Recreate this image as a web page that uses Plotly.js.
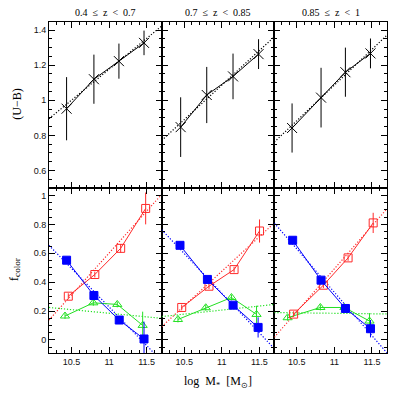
<!DOCTYPE html>
<html>
<head>
<meta charset="utf-8">
<script src="https://cdn.plot.ly/plotly-3.0.1.min.js"></script>
<style>
  html, body { margin: 0; padding: 0; background: #fff; }
  #chart { width: 396px; height: 396px; }
</style>
</head>
<body>
<div id="chart"></div>
<script>
// Redshift bins (one column of panels each)
const zLabels = ['0.4  \u2264  z  <  0.7', '0.7  \u2264  z  <  0.85', '0.85  \u2264  z  <  1'];

// Top row: mean (U-B) colour vs stellar mass
const ubMass = [[10.434, 10.798, 11.131, 11.465], [10.453, 10.800, 11.150, 11.490], [10.436, 10.822, 11.146, 11.480]];
const ubColor = [[0.952, 1.120, 1.223, 1.327], [0.847, 1.030, 1.136, 1.263], [0.842, 1.015, 1.160, 1.267]];
const ubErr = [[0.18, 0.14, 0.10, 0.07], [0.17, 0.16, 0.13, 0.085], [0.14, 0.17, 0.14, 0.085]];

// Linear fits, value at each end of fitMass
const fitMass = [10.2, 11.7];
const ubFit = [[0.895, 1.423], [0.771, 1.362], [0.762, 1.371]];

// Bottom row: colour fractions
const blueMass = [[10.434, 10.798, 11.135, 11.465], [10.444, 10.809, 11.151, 11.484], [10.444, 10.822, 11.147, 11.480]];
const blueFrac = [[0.552, 0.308, 0.138, 0.007], [0.655, 0.419, 0.241, 0.087], [0.690, 0.414, 0.218, 0.078]];
const blueErr = [[0.02, 0.02, 0.02, 0.12], [0.02, 0.02, 0.02, 0.07], [0.02, 0.02, 0.02, 0.06]];
const blueFit = [[0.655, -0.145], [0.763, -0.060], [0.809, -0.090]];

const redMass = [[10.457, 10.810, 11.154, 11.487], [10.467, 10.830, 11.164, 11.503], [10.457, 10.853, 11.182, 11.516]];
const redFrac = [[0.303, 0.453, 0.634, 0.910], [0.225, 0.372, 0.487, 0.754], [0.179, 0.379, 0.568, 0.810]];
const redErr = [[0.02, 0.02, 0.03, 0.11], [0.02, 0.02, 0.02, 0.08], [0.02, 0.02, 0.02, 0.07]];
const redFit = [[0.138, 1.007], [0.092, 0.810], [0.019, 0.908]];

const greenMass = [[10.413, 10.790, 11.109, 11.447], [10.417, 10.787, 11.129, 11.463], [10.377, 10.813, 11.133, 11.467]];
const greenFrac = [[0.166, 0.257, 0.246, 0.101], [0.142, 0.223, 0.294, 0.177], [0.154, 0.225, 0.225, 0.131]];
const greenErr = [[0.02, 0.02, 0.02, 0.095], [0.02, 0.02, 0.02, 0.06], [0.02, 0.02, 0.02, 0.055]];
const greenFit = [[0.225, 0.150], [0.162, 0.246], [0.190, 0.180]];

const BLUE = '#0000ff';
const RED = '#ff2a2a';
const GREEN = '#22e022';

function pointTrace(x, y, err, color, symbol, xa, ya) {
    return {
        x: x, y: y, type: 'scatter', mode: 'lines+markers',
        xaxis: xa, yaxis: ya,
        line: { color: color, width: 1 },
        marker: { symbol: symbol, size: 8, color: color, line: { color: color, width: 1 } },
        error_y: { type: 'data', array: err, visible: true, color: color, thickness: 1, width: 0 },
        hoverinfo: 'x+y'
    };
}

function fitTrace(ends, color, xa, ya) {
    return {
        x: fitMass, y: ends, type: 'scatter', mode: 'lines',
        xaxis: xa, yaxis: ya,
        line: { color: color, width: 1.2, dash: '1.2px,1.8px' },
        hoverinfo: 'none'
    };
}

const data = [];
for (let i = 0; i < 3; i++) {
    // bottom panels use axes 1..3, top panels 4..6
    const xb = i === 0 ? 'x' : 'x' + (i + 1);
    const yb = i === 0 ? 'y' : 'y' + (i + 1);
    const xt = 'x' + (i + 4);
    const yt = 'y' + (i + 4);

    data.push(fitTrace(ubFit[i], 'black', xt, yt));
    const top = pointTrace(ubMass[i], ubColor[i], ubErr[i], 'black', 'x-thin-open', xt, yt);
    top.marker.size = 10;
    data.push(top);

    data.push(fitTrace(redFit[i], RED, xb, yb));
    data.push(fitTrace(blueFit[i], BLUE, xb, yb));
    data.push(fitTrace(greenFit[i], GREEN, xb, yb));
    data.push(pointTrace(greenMass[i], greenFrac[i], greenErr[i], GREEN, 'triangle-up-open', xb, yb));
    data.push(pointTrace(redMass[i], redFrac[i], redErr[i], RED, 'square-open', xb, yb));
    data.push(pointTrace(blueMass[i], blueFrac[i], blueErr[i], BLUE, 'square', xb, yb));
}

function axis(range, dtick, minor, showLabels, domain, anchor) {
    return {
        range: range, domain: domain, anchor: anchor,
        tick0: 0, dtick: dtick,
        ticks: 'inside', ticklen: 6, tickwidth: 1, tickcolor: 'black',
        minor: { dtick: minor, ticks: 'inside', ticklen: 3, tickwidth: 1, tickcolor: 'black', showgrid: false },
        mirror: 'allticks', showline: true, linecolor: 'black', linewidth: 1,
        showgrid: false, zeroline: false,
        showticklabels: showLabels,
        tickfont: { family: 'Liberation Sans, Arial, sans-serif', size: 9, color: '#111' }
    };
}

const massRange = [10.2, 11.7];
const ubRange = [0.503, 1.446];
const fracRange = [-0.09, 1.055];
const cols = [[0, 1 / 3], [1 / 3, 2 / 3], [2 / 3, 1]];

const layout = {
    width: 396, height: 396,
    margin: { l: 49, r: 9, t: 22, b: 43, pad: 0 },
    paper_bgcolor: 'white', plot_bgcolor: 'white',
    showlegend: false,
    font: { family: 'Liberation Serif, serif', color: 'black' },
    annotations: []
};

for (let i = 0; i < 3; i++) {
    const nb = i === 0 ? '' : String(i + 1);
    const nt = String(i + 4);
    layout['xaxis' + nb] = axis(massRange, 0.5, 0.1, true, cols[i], 'y' + nb);
    layout['yaxis' + nb] = axis(fracRange, 0.2, 0.05, i === 0, [0, 0.5], 'x' + nb);
    layout['xaxis' + nt] = axis(massRange, 0.5, 0.1, false, cols[i], 'y' + nt);
    layout['yaxis' + nt] = axis(ubRange, 0.2, 0.05, i === 0, [0.5, 1], 'x' + nt);

    layout.annotations.push({
        text: zLabels[i], xref: 'paper', yref: 'paper',
        x: (cols[i][0] + cols[i][1]) / 2, y: 1, yshift: 2,
        xanchor: 'center', yanchor: 'bottom', showarrow: false,
        font: { family: 'Liberation Serif, serif', size: 10, color: 'black' }
    });
}

layout.annotations.push({
    text: 'log  M<sub>*</sub>  [M<sub>\u2299</sub>]', xref: 'paper', yref: 'paper',
    x: 0.5, y: 0, yshift: -29, xanchor: 'center', yanchor: 'middle', showarrow: false,
    font: { family: 'Liberation Serif, serif', size: 12, color: 'black' }
});
layout.annotations.push({
    text: '(U\u2212B)', xref: 'paper', yref: 'paper',
    x: 0, xshift: -32, y: 0.75, textangle: -90,
    xanchor: 'center', yanchor: 'middle', showarrow: false,
    font: { family: 'Liberation Serif, serif', size: 12, color: 'black' }
});
layout.annotations.push({
    text: 'f<sub>color</sub>', xref: 'paper', yref: 'paper',
    x: 0, xshift: -35, y: 0.25, textangle: -90,
    xanchor: 'center', yanchor: 'middle', showarrow: false,
    font: { family: 'Liberation Serif, serif', size: 13, color: 'black' }
});

Plotly.newPlot('chart', data, layout, { staticPlot: true, displayModeBar: false });
</script>
</body>
</html>
